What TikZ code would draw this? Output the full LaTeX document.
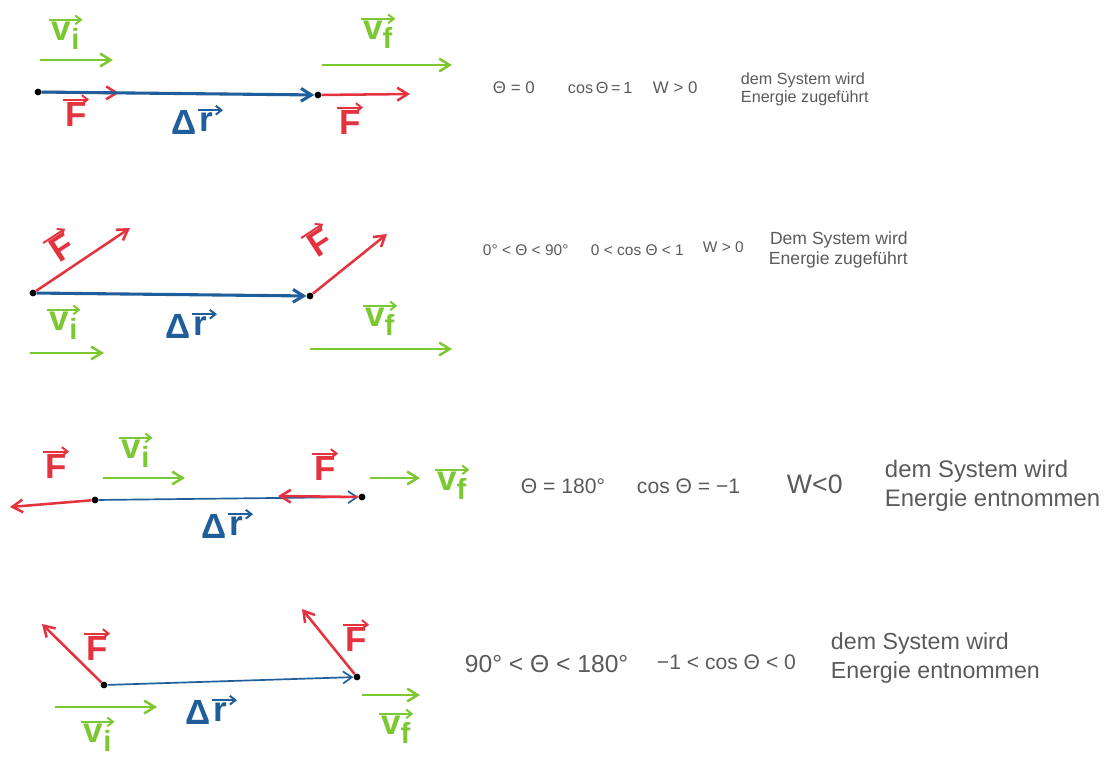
\documentclass[tikz,border=0pt]{standalone}
\usepackage{fontspec}
\setmainfont{Liberation Sans}
\usepackage{tikz}
\usetikzlibrary{arrows.meta, positioning}
\definecolor{vgreen}{HTML}{7CC832}
\definecolor{fred}{HTML}{E4323E}
\definecolor{rblue}{HTML}{1F5E9A}
\definecolor{inkgray}{HTML}{5A5A5A}

\begin{document}
\begin{tikzpicture}[x=0.025cm, y=-0.025cm,
  dot/.style={circle, fill=black, inner sep=0pt, minimum size=0.17cm},
  gvec/.style={-{Straight Barb[length=2.6mm, width=3.2mm]}, line width=1.8pt, color=vgreen},
  rvec/.style={-{Straight Barb[length=2.6mm, width=3.2mm]}, line width=1.8pt, color=fred},
  bvec/.style={-{Straight Barb[length=2.6mm, width=3.2mm]}, line width=2.2pt, color=rblue},
  bthin/.style={-{Straight Barb[length=2.2mm, width=3mm]}, line width=1.2pt, color=rblue},
  tagarr/.style={-{Straight Barb[length=1.4mm, width=2.2mm]}, line width=1.4pt},
  glab/.style={text=vgreen, font=\Huge\bfseries, inner sep=1.5pt},
  rlab/.style={text=fred, font=\Huge\bfseries, inner sep=1.5pt},
  blab/.style={text=rblue, font=\Huge\bfseries, inner sep=1.5pt},
  txt/.style={text=inkgray, anchor=west, align=left}
]
  \useasboundingbox (0,0) rectangle (1116,758);

  % row 1
  \node[dot] (a1) at (38,92) {};
  \node[dot] (b1) at (318,95) {};
  \coordinate (fa1) at (119,93);
  \coordinate (fb1) at (410,94);
  \coordinate (via1) at (40,60);
  \coordinate (vie1) at (113,60);
  \coordinate (vfa1) at (322,65);
  \coordinate (vfe1) at (452,65);
  \draw[rvec] (a1) -- (fa1);
  \draw[rvec] (b1) -- (fb1);
  \draw[bvec] (a1) -- (b1);
  \draw[gvec] (via1) -- (vie1);
  \draw[gvec] (vfa1) -- (vfe1);
  \node[glab] (vil1) at (66,36) {v\textsubscript{i}};
  \node[glab] (vfl1) at (378,35) {v\textsubscript{f}};
  \node[rlab] (fla1) at (76,114) {F};
  \node[rlab] (flb1) at (350,122) {F};
  \node[blab] (dl1) at (184,122) {Δ};
  \node[blab, right=-1pt of dl1] (dr1) {r};
  \draw[tagarr, vgreen] (vil1.north west) -- (vil1.north east);
  \draw[tagarr, vgreen] (vfl1.north west) -- (vfl1.north east);
  \draw[tagarr, fred] (fla1.north west) -- (fla1.north east);
  \draw[tagarr, fred] (flb1.north west) -- (flb1.north east);
  \draw[tagarr, rblue] (dr1.north west) -- ([xshift=5pt]dr1.north east);
  \node[txt, font=\fontsize{12}{14}\selectfont] (th1) at (488,88) {Θ = 0};
  \node[txt, font=\fontsize{11.5}{14}\selectfont] (cos1) at (563,88) {cos\,Θ\,=\,1};
  \node[txt, font=\fontsize{12}{14}\selectfont] (w1) at (648,88) {W > 0};
  \node[txt, font=\fontsize{11.5}{13}\selectfont] (e1) at (736,89) {dem System wird\\Energie zugeführt};

  % row 2
  \node[dot] (a2) at (33,293) {};
  \node[dot] (b2) at (310,296) {};
  \coordinate (fa2) at (130,228);
  \coordinate (fb2) at (387,234);
  \coordinate (via2) at (30,353);
  \coordinate (vie2) at (104,353);
  \coordinate (vfa2) at (310,349);
  \coordinate (vfe2) at (452,349);
  \draw[rvec] (a2) -- (fa2);
  \draw[rvec] (b2) -- (fb2);
  \draw[bvec] (a2) -- (b2);
  \draw[gvec] (via2) -- (vie2);
  \draw[gvec] (vfa2) -- (vfe2);
  \node[rlab, rotate=33] (fla2) at (62,248) {F};
  \node[rlab, rotate=33] (flb2) at (320,243) {F};
  \node[glab] (vil2) at (64,326) {v\textsubscript{i}};
  \node[glab] (vfl2) at (380,322) {v\textsubscript{f}};
  \node[blab] (dl2) at (178,326) {Δ};
  \node[blab, right=-1pt of dl2] (dr2) {r};
  \draw[tagarr, fred] (fla2.north west) -- (fla2.north east);
  \draw[tagarr, fred] (flb2.north west) -- (flb2.north east);
  \draw[tagarr, vgreen] (vil2.north west) -- (vil2.north east);
  \draw[tagarr, vgreen] (vfl2.north west) -- (vfl2.north east);
  \draw[tagarr, rblue] (dr2.north west) -- ([xshift=5pt]dr2.north east);
  \node[txt, font=\fontsize{11}{13}\selectfont] (th2) at (478,250) {0° < Θ < 90°};
  \node[txt, font=\fontsize{11}{13}\selectfont] (cos2) at (586,250) {0 < cos Θ < 1};
  \node[txt, font=\fontsize{11}{13}\selectfont] (w2) at (698,247) {W > 0};
  \node[txt, align=right, font=\fontsize{12.5}{14}\selectfont] (e2) at (764,250) {Dem System wird\\Energie zugeführt};

  % row 3
  \node[dot] (a3) at (95,500) {};
  \node[dot] (b3) at (362,497) {};
  \coordinate (fa3) at (10,507);
  \coordinate (fb3) at (278,496);
  \coordinate (via3) at (103,478);
  \coordinate (vie3) at (185,478);
  \coordinate (vfa3) at (370,478);
  \coordinate (vfe3) at (420,478);
  \draw[bthin] (a3) -- (b3);
  \draw[rvec] (a3) -- (fa3);
  \draw[rvec] (b3) -- (fb3);
  \draw[gvec] (via3) -- (vie3);
  \draw[gvec] (vfa3) -- (vfe3);
  \node[rlab] (fla3) at (56,466) {F};
  \node[rlab] (flb3) at (325,468) {F};
  \node[glab] (vil3) at (136,454) {v\textsubscript{i}};
  \node[glab] (vfl3) at (452,486) {v\textsubscript{f}};
  \node[blab] (dl3) at (214,526) {Δ};
  \node[blab, right=-1pt of dl3] (dr3) {r};
  \draw[tagarr, fred] (fla3.north west) -- (fla3.north east);
  \draw[tagarr, fred] (flb3.north west) -- (flb3.north east);
  \draw[tagarr, vgreen] (vil3.north west) -- (vil3.north east);
  \draw[tagarr, vgreen] (vfl3.north west) -- (vfl3.north east);
  \draw[tagarr, rblue] (dr3.north west) -- ([xshift=5pt]dr3.north east);
  \node[txt, font=\fontsize{15}{18}\selectfont] (th3) at (516,486) {Θ = 180°};
  \node[txt, font=\fontsize{15}{18}\selectfont] (cos3) at (632,486) {cos Θ = −1};
  \node[txt, font=\fontsize{19}{22}\selectfont] (w3) at (782,484) {W<0};
  \node[txt, font=\fontsize{17}{21}\selectfont] (e3) at (880,486) {dem System wird\\Energie entnommen};

  % row 4
  \node[dot] (a4) at (104,685) {};
  \node[dot] (b4) at (357,677) {};
  \coordinate (fa4) at (42,624);
  \coordinate (fb4) at (302,609);
  \coordinate (via4) at (55,707);
  \coordinate (vie4) at (157,707);
  \coordinate (vfa4) at (362,695);
  \coordinate (vfe4) at (420,695);
  \draw[bthin] (a4) -- (b4);
  \draw[rvec] (a4) -- (fa4);
  \draw[rvec] (b4) -- (fb4);
  \draw[gvec] (via4) -- (vie4);
  \draw[gvec] (vfa4) -- (vfe4);
  \node[rlab] (fla4) at (97,648) {F};
  \node[rlab] (flb4) at (356,639) {F};
  \node[glab] (vil4) at (98,738) {v\textsubscript{i}};
  \node[glab] (vfl4) at (396,730) {v\textsubscript{f}};
  \node[blab] (dl4) at (198,712) {Δ};
  \node[blab, right=-1pt of dl4] (dr4) {r};
  \draw[tagarr, fred] (fla4.north west) -- (fla4.north east);
  \draw[tagarr, fred] (flb4.north west) -- (flb4.north east);
  \draw[tagarr, vgreen] (vil4.north west) -- (vil4.north east);
  \draw[tagarr, vgreen] (vfl4.north west) -- (vfl4.north east);
  \draw[tagarr, rblue] (dr4.north west) -- ([xshift=5pt]dr4.north east);
  \node[txt, font=\fontsize{17.5}{21}\selectfont] (th4) at (460,664) {90° < Θ < 180°};
  \node[txt, font=\fontsize{15}{18}\selectfont] (cos4) at (652,662) {−1 < cos Θ < 0};
  \node[txt, font=\fontsize{16.5}{20}\selectfont] (e4) at (826,658) {dem System wird\\Energie entnommen};
\end{tikzpicture}
\end{document}
